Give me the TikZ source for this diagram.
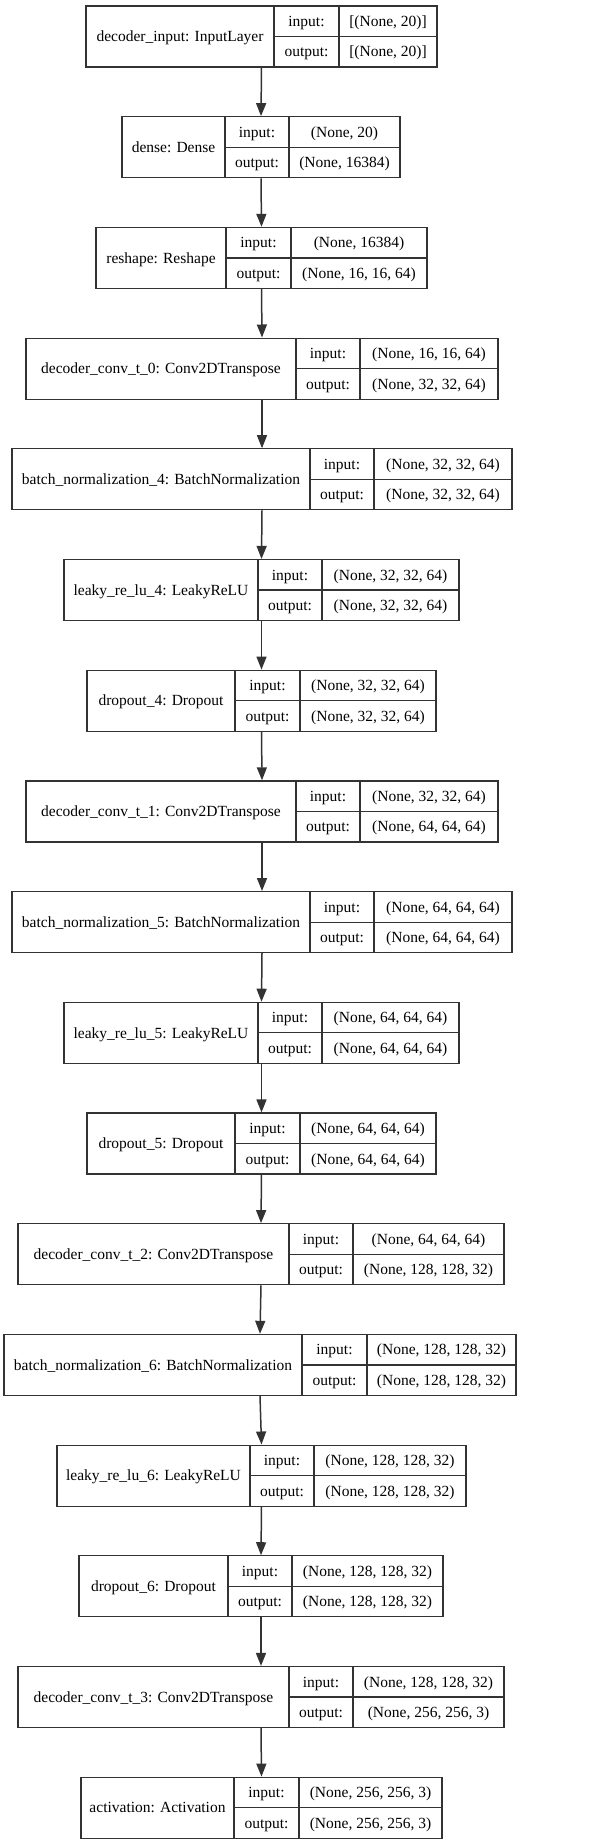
\documentclass[tikz,border=0pt]{standalone}
\usepackage{fontspec}
\setmainfont{Liberation Serif}
\usetikzlibrary{arrows.meta}
\begin{document}
\begin{tikzpicture}[x=1pt,y=-1pt]
  \tikzset{
    layerbox/.style={draw=black!80,line width=1.2pt,inner sep=0pt},
    cell/.style={font=\fontsize{15.5}{18}\selectfont,inner sep=0pt,text height=14pt,text depth=3.5pt},
    flow/.style={-{Triangle[width=10pt,length=13pt]},line width=1.5pt,draw=black!80},
  }
  \useasboundingbox (0,0) rectangle (608,1844);
  % layers: index / left / divider 1 / divider 2 / right / name / input / output
  \foreach \i/\xa/\xb/\xc/\xd/\lname/\shin/\shout in {
    0/86/274/339/437/{decoder\_input: InputLayer}/{[(None, 20)]}/{[(None, 20)]},
    1/122/225/289/400/{dense: Dense}/{(None, 20)}/{(None, 16384)},
    2/96/226/291/427/{reshape: Reshape}/{(None, 16384)}/{(None, 16, 16, 64)},
    3/26/296/360/498/{decoder\_conv\_t\_0: Conv2DTranspose}/{(None, 16, 16, 64)}/{(None, 32, 32, 64)},
    4/12/310/374/512/{batch\_normalization\_4: BatchNormalization}/{(None, 32, 32, 64)}/{(None, 32, 32, 64)},
    5/64/258/322/459/{leaky\_re\_lu\_4: LeakyReLU}/{(None, 32, 32, 64)}/{(None, 32, 32, 64)},
    6/87/235/300/436/{dropout\_4: Dropout}/{(None, 32, 32, 64)}/{(None, 32, 32, 64)},
    7/26/296/360/498/{decoder\_conv\_t\_1: Conv2DTranspose}/{(None, 32, 32, 64)}/{(None, 64, 64, 64)},
    8/12/310/374/512/{batch\_normalization\_5: BatchNormalization}/{(None, 64, 64, 64)}/{(None, 64, 64, 64)},
    9/64/258/322/459/{leaky\_re\_lu\_5: LeakyReLU}/{(None, 64, 64, 64)}/{(None, 64, 64, 64)},
    10/87/235/300/436/{dropout\_5: Dropout}/{(None, 64, 64, 64)}/{(None, 64, 64, 64)},
    11/18/289/353/504/{decoder\_conv\_t\_2: Conv2DTranspose}/{(None, 64, 64, 64)}/{(None, 128, 128, 32)},
    12/4/302/367/516/{batch\_normalization\_6: BatchNormalization}/{(None, 128, 128, 32)}/{(None, 128, 128, 32)},
    13/57/250/314/466/{leaky\_re\_lu\_6: LeakyReLU}/{(None, 128, 128, 32)}/{(None, 128, 128, 32)},
    14/79/228/292/443/{dropout\_6: Dropout}/{(None, 128, 128, 32)}/{(None, 128, 128, 32)},
    15/18/289/353/504/{decoder\_conv\_t\_3: Conv2DTranspose}/{(None, 128, 128, 32)}/{(None, 256, 256, 3)},
    16/81/234/299/442/{activation: Activation}/{(None, 256, 256, 3)}/{(None, 256, 256, 3)}
  }{
    \pgfmathsetmacro\ya{6+110.7*\i}
    \pgfmathsetmacro\yb{\ya+61}
    \pgfmathsetmacro\ym{\ya+30.5}
    \pgfmathsetmacro\boxw{\xd-\xa}
    \node[layerbox,minimum width=\boxw pt,minimum height=61pt] (L\i) at ({(\xa+\xd)/2},\ym) {};
    \node[cell] (N\i) at ({(\xa+\xb)/2},\ym) {\lname};
    \node[cell] (I\i) at ({(\xb+\xc)/2},{\ya+15.25}) {input:};
    \node[cell] (O\i) at ({(\xb+\xc)/2},{\ya+45.75}) {output:};
    \node[cell] (S\i) at ({(\xc+\xd)/2},{\ya+15.25}) {\shin};
    \node[cell] (T\i) at ({(\xc+\xd)/2},{\ya+45.75}) {\shout};
    \draw[layerbox] (\xb,\ya) -- (\xb,\yb) (\xc,\ya) -- (\xc,\yb) (\xb,\ym) -- (\xd,\ym);
  }
  % connectors
  \foreach \i in {0,...,15}{
    \pgfmathtruncatemacro\j{\i+1}
    \draw[flow] (L\i.south) -- (L\j.north);
  }
\end{tikzpicture}
\end{document}
